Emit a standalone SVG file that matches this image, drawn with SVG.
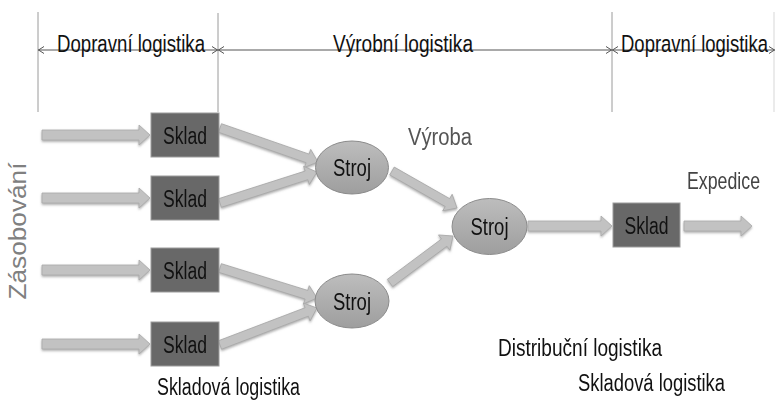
<svg xmlns="http://www.w3.org/2000/svg" width="775" height="401" viewBox="0 0 775 401">
<style>
  text { font-family: "Liberation Sans", Arial, sans-serif; }
  .hdr { font-size: 23.5px; fill: #111; }
  .lbl { font-size: 23px; fill: #111; }
  .gray { font-size: 23px; fill: #555; }
  .box { fill: #686868; stroke: #9c9c9c; stroke-width: 1; }
  .ell { fill: url(#eg); stroke: #8a8a8a; stroke-width: 1; }
  .arr { fill: #c2c2c2; stroke: #a9a9a9; stroke-width: 0.8; }
  .vline { stroke: #9a9a9a; stroke-width: 1; }
  .dim { stroke: #555; stroke-width: 1; fill: none; }
</style>
<defs>
  <linearGradient id="eg" x1="0" y1="0" x2="0" y2="1">
    <stop offset="0" stop-color="#bdbdbd"/>
    <stop offset="1" stop-color="#9e9e9e"/>
  </linearGradient>
  <filter id="sh" x="-10%" y="-30%" width="120%" height="160%">
    <feDropShadow dx="0" dy="1.5" stdDeviation="0.8" flood-color="#777" flood-opacity="0.6"/>
  </filter>
</defs>
<rect width="775" height="401" fill="#fff"/>

<g id="dimensions">
  <line class="vline" x1="38" y1="12" x2="38" y2="112"/>
  <line class="vline" x1="218" y1="13" x2="218" y2="112"/>
  <line class="vline" x1="612" y1="12" x2="612" y2="112"/>
  <line class="vline" x1="774" y1="12" x2="774" y2="112" stroke-opacity="0.4"/>
  <line class="dim" x1="38" y1="50" x2="775" y2="50"/>
  <path class="dim" d="M44,46.5 L38.5,50 L44,53.5"/>
  <path class="dim" d="M212,46.5 L217.5,50 L212,53.5"/>
  <path class="dim" d="M224,46.5 L218.5,50 L224,53.5"/>
  <path class="dim" d="M606,46.5 L611.5,50 L606,53.5"/>
  <path class="dim" d="M618,46.5 L612.5,50 L618,53.5"/>
  <path class="dim" d="M769,46.5 L774.5,50 L769,53.5"/>
  <text class="hdr" x="57" y="52" textLength="148" lengthAdjust="spacingAndGlyphs">Dopravní logistika</text>
  <text class="hdr" x="333" y="52" textLength="140" lengthAdjust="spacingAndGlyphs">Výrobní logistika</text>
  <text class="hdr" transform="translate(621,52) scale(0.787,1)" x="0" y="0" textLength="186.8" lengthAdjust="spacingAndGlyphs">Dopravní logistika</text>
</g>

<g id="connectors" filter="url(#sh)">
  <path class="arr" d="M42,130 H139 V125 L150,135 L139,145 V140 H42 Z"/>
  <path class="arr" d="M42,193 H139 V188 L150,198 L139,208 V203 H42 Z"/>
  <path class="arr" d="M42,265 H139 V260 L150,270 L139,280 V275 H42 Z"/>
  <path class="arr" d="M42,339 H139 V334 L150,344 L139,354 V349 H42 Z"/>
  <path class="arr" transform="translate(220,128) rotate(19.13)" d="M0,-4.5 H92.7 V-9.5 L103.7,0 L92.7,9.5 V4.5 H0 Z"/>
  <path class="arr" transform="translate(220,203) rotate(-17.72)" d="M0,-4.5 H90.8 V-9.5 L101.8,0 L90.8,9.5 V4.5 H0 Z"/>
  <path class="arr" transform="translate(220,268) rotate(17.19)" d="M0,-4.5 H90.5 V-9.5 L101.5,0 L90.5,9.5 V4.5 H0 Z"/>
  <path class="arr" transform="translate(220,345) rotate(-20.88)" d="M0,-4.5 H92.8 V-9.5 L103.8,0 L92.8,9.5 V4.5 H0 Z"/>
  <path class="arr" transform="translate(392,171) rotate(29.65)" d="M0,-4.5 H63.8 V-9.5 L74.8,0 L63.8,9.5 V4.5 H0 Z"/>
  <path class="arr" transform="translate(390,283) rotate(-36.72)" d="M0,-4.5 H67.6 V-9.5 L78.6,0 L67.6,9.5 V4.5 H0 Z"/>
  <path class="arr" d="M528,221 H601 V216 L612,226 L601,236 V231 H528 Z"/>
  <path class="arr" d="M684,221 H741 V216 L752,226 L741,236 V231 H684 Z"/>
</g>

<g id="sklad1">
  <rect class="box" x="151" y="113" width="68" height="44"/>
  <text class="lbl" x="185" y="144" text-anchor="middle" textLength="44" lengthAdjust="spacingAndGlyphs">Sklad</text>
</g>
<g id="sklad2">
  <rect class="box" x="151" y="176" width="68" height="44"/>
  <text class="lbl" x="185" y="207" text-anchor="middle" textLength="44" lengthAdjust="spacingAndGlyphs">Sklad</text>
</g>
<g id="sklad3">
  <rect class="box" x="151" y="248" width="68" height="44"/>
  <text class="lbl" x="185" y="279" text-anchor="middle" textLength="44" lengthAdjust="spacingAndGlyphs">Sklad</text>
</g>
<g id="sklad4">
  <rect class="box" x="151" y="322" width="68" height="44"/>
  <text class="lbl" x="185" y="353" text-anchor="middle" textLength="44" lengthAdjust="spacingAndGlyphs">Sklad</text>
</g>
<g id="sklad5">
  <rect class="box" x="613" y="203" width="67" height="44"/>
  <text class="lbl" x="646.5" y="234" text-anchor="middle" textLength="44" lengthAdjust="spacingAndGlyphs">Sklad</text>
</g>

<g id="stroj1">
  <ellipse class="ell" cx="352" cy="167.5" rx="36.5" ry="26.5"/>
  <text class="lbl" x="352" y="176" text-anchor="middle" textLength="38" lengthAdjust="spacingAndGlyphs">Stroj</text>
</g>
<g id="stroj2">
  <ellipse class="ell" cx="489.5" cy="226.5" rx="37.5" ry="28"/>
  <text class="lbl" x="489.5" y="235" text-anchor="middle" textLength="38" lengthAdjust="spacingAndGlyphs">Stroj</text>
</g>
<g id="stroj3">
  <ellipse class="ell" cx="352" cy="301" rx="37" ry="27"/>
  <text class="lbl" x="352" y="309.5" text-anchor="middle" textLength="38" lengthAdjust="spacingAndGlyphs">Stroj</text>
</g>

<g id="labels">
  <text class="gray" x="408" y="145" textLength="64" lengthAdjust="spacingAndGlyphs">Výroba</text>
  <text class="gray" transform="translate(687,189) scale(0.772,1)" x="0" y="0" style="fill:#444" textLength="94.6" lengthAdjust="spacingAndGlyphs">Expedice</text>
  <text class="gray" style="fill:#808080" transform="translate(26,231) rotate(-90)" text-anchor="middle" textLength="137" lengthAdjust="spacingAndGlyphs">Zásobování</text>
  <text class="lbl" x="157" y="395" textLength="143" lengthAdjust="spacingAndGlyphs">Skladová logistika</text>
  <text class="lbl" x="498" y="356" textLength="164" lengthAdjust="spacingAndGlyphs">Distribuční logistika</text>
  <text class="lbl" x="578" y="391" textLength="147" lengthAdjust="spacingAndGlyphs">Skladová logistika</text>
</g>
</svg>
